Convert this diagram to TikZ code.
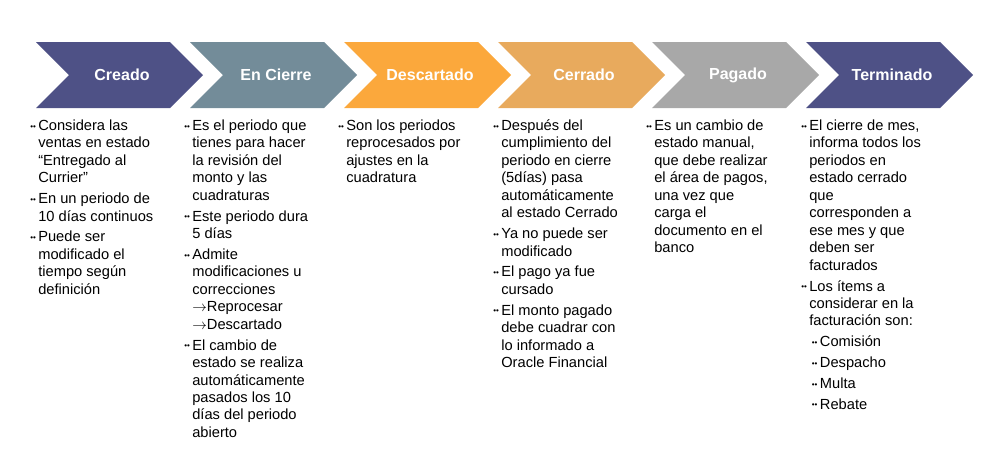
\documentclass[tikz,border=0pt]{standalone}
\usepackage{fontspec}
\setmainfont{Liberation Sans}
\begin{document}
\begin{tikzpicture}[x=0.75pt,y=-0.75pt,
  hdr/.style={text=white,font=\fontsize{12}{14}\selectfont\bfseries},
  col/.style={anchor=north west,inner sep=0pt,font=\fontsize{11}{13.1}\selectfont,align=left}]
\useasboundingbox (0,0) rectangle (1002,461);
\newcommand{\chev}[4]{%
  \fill[#2] (#1,42) -- (#1+134,42) -- (#1+167,75) -- (#1+134,108) -- (#1,108) -- (#1+33,75) -- cycle;
  \node[hdr] (#4) at (#1+86,75) {#3};}
\definecolor{cA}{HTML}{4E5186}
\definecolor{cB}{HTML}{738C99}
\definecolor{cC}{HTML}{FBA83C}
\definecolor{cD}{HTML}{E8AA5D}
\definecolor{cE}{HTML}{A8A8A8}
\chev{36}{cA}{Creado}{h1}
\chev{190}{cB}{En Cierre}{h2}
\chev{344}{cC}{Descartado}{h3}
\chev{498}{cD}{Cerrado}{h4}
\chev{652}{cE}{Pagado}{h5}
\chev{806}{cA}{Terminado}{h6}
\newcommand{\bl}{\raisebox{1pt}{\fontsize{6}{6}\selectfont ••}}
\def\ss{\\[2.5pt]}
\node[col] (c1) at (30,118) {\begin{tabular}{@{}l@{\,}l@{}}
\bl & Considera las\\ & ventas en estado\\ & “Entregado al\\ & Currier”\ss
\bl & En un periodo de\\ & 10 días continuos\ss
\bl & Puede ser\\ & modificado el\\ & tiempo según\\ & definición
\end{tabular}};
\node[col] (c2) at (184,118) {\begin{tabular}{@{}l@{\,}l@{}}
\bl & Es el periodo que\\ & tienes para hacer\\ & la revisión del\\ & monto y las\\ & cuadraturas\ss
\bl & Este periodo dura\\ & 5 días\ss
\bl & Admite\\ & modificaciones u\\ & correcciones\\ & $\rightarrow$Reprocesar\\ & $\rightarrow$Descartado\ss
\bl & El cambio de\\ & estado se realiza\\ & automáticamente\\ & pasados los 10\\ & días del periodo\\ & abierto
\end{tabular}};
\node[col] (c3) at (338,118) {\begin{tabular}{@{}l@{\,}l@{}}
\bl & Son los periodos\\ & reprocesados por\\ & ajustes en la\\ & cuadratura
\end{tabular}};
\node[col] (c4) at (493,118) {\begin{tabular}{@{}l@{\,}l@{}}
\bl & Después del\\ & cumplimiento del\\ & periodo en cierre\\ & (5días) pasa\\ & automáticamente\\ & al estado Cerrado\ss
\bl & Ya no puede ser\\ & modificado\ss
\bl & El pago ya fue\\ & cursado\ss
\bl & El monto pagado\\ & debe cuadrar con\\ & lo informado a\\ & Oracle Financial
\end{tabular}};
\node[col] (c5) at (646,118) {\begin{tabular}{@{}l@{\,}l@{}}
\bl & Es un cambio de\\ & estado manual,\\ & que debe realizar\\ & el área de pagos,\\ & una vez que\\ & carga el\\ & documento en el\\ & banco
\end{tabular}};
\node[col] (c6) at (801,118) {\begin{tabular}{@{}l@{\,}l@{}}
\bl & El cierre de mes,\\ & informa todos los\\ & periodos en\\ & estado cerrado\\ & que\\ & corresponden a\\ & ese mes y que\\ & deben ser\\ & facturados\ss
\bl & Los ítems a\\ & considerar en la\\ & facturación son:\ss
\multicolumn{2}{@{}l@{}}{\hspace{8pt}\bl\,Comisión}\ss
\multicolumn{2}{@{}l@{}}{\hspace{8pt}\bl\,Despacho}\ss
\multicolumn{2}{@{}l@{}}{\hspace{8pt}\bl\,Multa}\ss
\multicolumn{2}{@{}l@{}}{\hspace{8pt}\bl\,Rebate}
\end{tabular}};
\end{tikzpicture}
\end{document}
